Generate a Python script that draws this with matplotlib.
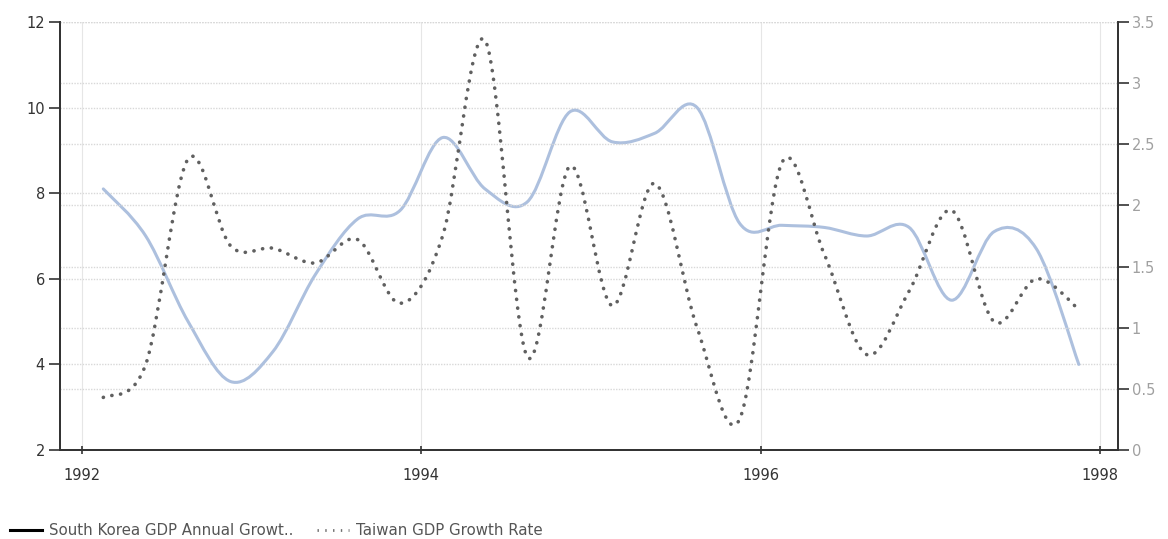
import matplotlib
matplotlib.use('Agg')
import matplotlib.pyplot as plt
from matplotlib.path import Path
from matplotlib.patches import PathPatch
from matplotlib.lines import Line2D
import numpy as np
import pandas as pd

# quarterly observations, 1992Q1 .. 1997Q4
QUARTERS = pd.period_range('1992Q1', '1997Q4', freq='Q')
KOREA = [8.1, 7.0, 5.0, 3.6, 4.3, 6.1, 7.4, 7.6, 9.3, 8.1, 7.8, 9.9,
         9.2, 9.4, 10.0, 7.3, 7.25, 7.2, 7.0, 7.2, 5.5, 7.1, 6.7, 4.0]
TAIWAN = [0.43, 0.7, 2.38, 1.67, 1.65, 1.53, 1.72, 1.2, 1.75, 3.35, 0.76, 2.32,
          1.18, 2.18, 1.0, 0.25, 2.35, 1.6, 0.78, 1.3, 1.96, 1.05, 1.4, 1.15]
YEAR_TICKS = [1992, 1994, 1996, 1998]
LEFT_TICKS = [2, 4, 6, 8, 10, 12]
RIGHT_TICKS = [0, 0.5, 1, 1.5, 2, 2.5, 3, 3.5]


def smooth_path(x, y):
    # Catmull-Rom through the points, expressed as cubic bezier segments
    p = np.column_stack([x, y]).astype(float)
    ext = np.vstack([p[0], p, p[-1]])
    verts, codes = [p[0]], [Path.MOVETO]
    for i in range(1, len(ext) - 2):
        c1 = ext[i] + (ext[i + 1] - ext[i - 1]) / 6
        c2 = ext[i + 1] - (ext[i + 2] - ext[i]) / 6
        verts += [c1, c2, ext[i + 1]]
        codes += [Path.CURVE4] * 3
    return Path(verts, codes)


xq = np.array([p.year + (p.quarter - 0.5) / 4 for p in QUARTERS])

fig = plt.figure(figsize=(11.68, 5.39), dpi=100)
ax = fig.add_axes([0.0514, 0.1651, 0.9058, 0.7941])
ax2 = ax.twinx()

ax.set_xlim(1991.87, 1998.106)
ax.set_ylim(2, 12)
ax2.set_ylim(0, 3.5)

# grid
for v in LEFT_TICKS[1:]:
    ax.axhline(v, color='#d8d8d8', lw=1.0, ls=(0, (1, 1)), zorder=0)
for v in RIGHT_TICKS[1:]:
    ax2.axhline(v, color='#d8d8d8', lw=1.0, ls=(0, (1, 1)), zorder=0)
for v in YEAR_TICKS:
    ax.axvline(v, color='#e6e6e6', lw=0.8, zorder=0)

ax.add_patch(PathPatch(smooth_path(xq, KOREA), fill=False, ec='#adc0de', lw=2.2,
                       capstyle='round', joinstyle='round', zorder=2))
ax2.add_patch(PathPatch(smooth_path(xq, TAIWAN), fill=False, ec='#606060', lw=2.6,
                        ls=(0, (0.05, 2.4)), capstyle='round', zorder=3))

for a in (ax, ax2):
    a.spines['top'].set_visible(False)
    for s in ('left', 'right', 'bottom'):
        a.spines[s].set_color('#333333')
        a.spines[s].set_linewidth(1.3)

ax.set_xticks(YEAR_TICKS)
ax.set_xticklabels([str(y) for y in YEAR_TICKS])
ax.set_yticks(LEFT_TICKS)
ax.set_yticklabels([str(v) for v in LEFT_TICKS])
ax.tick_params(axis='x', direction='inout', length=6, width=1.2, color='#333333',
               labelsize=10.5, labelcolor='#333333', pad=10)
ax.tick_params(axis='y', direction='out', length=8, width=1.2, color='#333333',
               labelsize=10.5, labelcolor='#333333', pad=3)
ax2.set_yticks(RIGHT_TICKS)
ax2.set_yticklabels(['0', '0.5', '1', '1.5', '2', '2.5', '3', '3.5'])
ax2.tick_params(axis='y', direction='out', length=8, width=1.2, color='#333333',
                labelsize=10.5, labelcolor='#a0a0a0', pad=2)

handles = [Line2D([], [], color='black', lw=2.2),
           Line2D([], [], color='#707070', lw=2.0, ls=(0, (0.5, 2.3)))]
fig.legend(handles, ['South Korea GDP Annual Growt..', 'Taiwan GDP Growth Rate'],
           loc='center left', bbox_to_anchor=(0.0086, 0.016), ncol=2, frameon=False,
           fontsize=10.8, handlelength=2.1, handletextpad=0.5, columnspacing=1.6,
           borderpad=0, borderaxespad=0, labelcolor='#555555')

fig.savefig('out.png', dpi=100)
